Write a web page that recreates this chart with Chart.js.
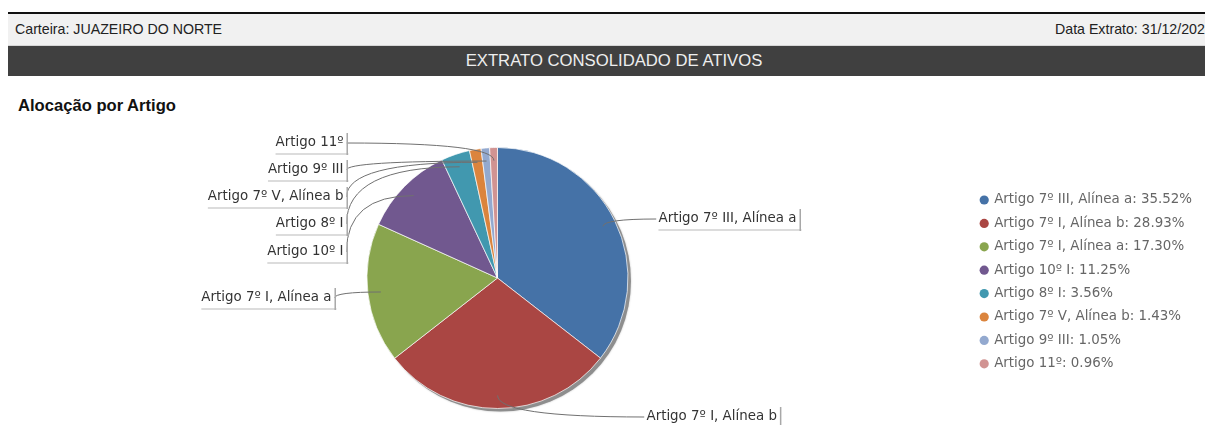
<!DOCTYPE html>
<html>
<head>
<meta charset="utf-8">
<script src="https://cdn.jsdelivr.net/npm/chart.js@4.4.1/dist/chart.umd.min.js"></script>
<style>
  html, body { margin: 0; padding: 0; background: #fff; width: 1205px; height: 425px; overflow: hidden; position: relative; }
  #linhaTopo { position: absolute; left: 8px; top: 12px; width: 1212px; height: 2px; background: #111; }
  #barraInfo { position: absolute; left: 8px; top: 14px; width: 1212px; height: 31px; background: #f1f1f1; border-bottom: 1px solid #d6d6d6; font: 14.2px "Liberation Sans", Arial, sans-serif; color: #222; }
  #carteira { position: absolute; left: 7px; top: 7px; white-space: nowrap; }
  #dataExtrato { position: absolute; left: 1047px; top: 7px; white-space: nowrap; }
  #barraTitulo { position: absolute; left: 8px; top: 46px; width: 1212px; height: 30px; background: #404040; color: #eee; font: 16.7px "Liberation Sans", Arial, sans-serif; text-align: center; line-height: 30px; }
  #tituloSecao { position: absolute; left: 18px; top: 96px; font: bold 16.6px "Liberation Sans", Arial, sans-serif; color: #111; white-space: nowrap; }
  #areaGrafico { position: absolute; left: 0; top: 120px; width: 1205px; height: 305px; }
</style>
</head>
<body>
<div id="linhaTopo"></div>
<div id="barraInfo"><span id="carteira">Carteira: JUAZEIRO DO NORTE</span><span id="dataExtrato">Data Extrato: 31/12/2025</span></div>
<div id="barraTitulo">EXTRATO CONSOLIDADO DE ATIVOS</div>
<div id="tituloSecao">Alocação por Artigo</div>
<div id="areaGrafico"><canvas id="alocacaoChart"></canvas></div>

<script>
// Dados da alocação por artigo
const categorias = [
  'Artigo 7º III, Alínea a',
  'Artigo 7º I, Alínea b',
  'Artigo 7º I, Alínea a',
  'Artigo 10º I',
  'Artigo 8º I',
  'Artigo 7º V, Alínea b',
  'Artigo 9º III',
  'Artigo 11º'
];
const percentuais = [35.52, 28.93, 17.30, 11.25, 3.56, 1.43, 1.05, 0.96];
const cores = ['#4572A7', '#AA4643', '#89A54E', '#71588F', '#4198AF', '#DB843D', '#93A9CF', '#D19392'];

// Posição dos rótulos externos, relativa ao centro da pizza (px)
const posRotulos = [
  { lado: 'dir', dx: 159, dy: -59 },
  { lado: 'dir', dx: 147, dy: 139 },
  { lado: 'esq', dx: -163, dy: 20 },
  { lado: 'esq', dx: -151, dy: -26 },
  { lado: 'esq', dx: -151, dy: -54 },
  { lado: 'esq', dx: -151, dy: -81 },
  { lado: 'esq', dx: -151, dy: -108 },
  { lado: 'esq', dx: -151, dy: -135 }
];

const fonteGrafico = '"DejaVu Sans", Verdana, sans-serif';

// Sombra cinza atrás da pizza + rótulos com linhas de chamada
const rotulosPlugin = {
  id: 'rotulos',
  beforeDatasetsDraw(chart) {
    const arc = chart.getDatasetMeta(0).data[0];
    if (!arc) return;
    const ctx = chart.ctx;
    const { x, y, outerRadius } = arc.getProps(['x', 'y', 'outerRadius'], true);
    ctx.save();
    ctx.fillStyle = '#8e8e8e';
    ctx.shadowColor = 'rgba(0,0,0,0.25)';
    ctx.shadowBlur = 2;
    ctx.beginPath();
    ctx.arc(x + 3, y + 3, outerRadius, 0, Math.PI * 2);
    ctx.fill();
    ctx.restore();
  },
  afterDatasetsDraw(chart) {
    const ctx = chart.ctx;
    const meta = chart.getDatasetMeta(0);
    ctx.save();
    ctx.font = '13.4px ' + fonteGrafico;
    ctx.textBaseline = 'middle';
    meta.data.forEach((arc, i) => {
      const p = arc.getProps(['x', 'y', 'startAngle', 'endAngle', 'outerRadius'], true);
      const meio = (p.startAngle + p.endAngle) / 2;
      const ax = p.x + Math.cos(meio) * p.outerRadius * 0.9;
      const ay = p.y + Math.sin(meio) * p.outerRadius * 0.9;
      const pos = posRotulos[i];
      const ly = p.y + pos.dy;
      const borda = p.x + pos.dx;
      const tw = ctx.measureText(categorias[i]).width;

      // linha de chamada
      let cx, cy;
      if (pos.lado === 'esq' && ay < ly - 4) { cx = borda; cy = ay; } else { cx = ax; cy = ly; }
      ctx.strokeStyle = '#707070';
      ctx.lineWidth = 1;
      ctx.beginPath();
      ctx.moveTo(borda, ly);
      ctx.quadraticCurveTo(cx, cy, ax, ay);
      ctx.stroke();

      // caixa do rótulo
      let esq, dir;
      if (pos.lado === 'esq') { dir = borda; esq = borda - tw - 5; }
      else { esq = borda; dir = borda + tw + 5; }
      const topo = ly - 10, base = ly + 10;
      ctx.fillStyle = '#fff';
      ctx.fillRect(esq, topo, dir - esq, base - topo);
      ctx.fillStyle = '#dcdcdc';
      ctx.fillRect(esq + 2, base, dir - esq, 2);
      ctx.fillStyle = '#a8a8a8';
      ctx.fillRect(dir, topo, 1.5, base - topo + 2);
      ctx.fillStyle = '#333';
      ctx.textAlign = 'left';
      ctx.fillText(categorias[i], esq + 2, ly);
    });
    ctx.restore();
  }
};

const ctx = document.getElementById('alocacaoChart').getContext('2d');
const grafico = new Chart(ctx, {
  type: 'pie',
  data: {
    labels: categorias,
    datasets: [{
      data: percentuais,
      backgroundColor: cores,
      borderColor: 'rgba(255,255,255,0.7)',
      borderWidth: 1,
      hoverOffset: 0
    }]
  },
  options: {
    responsive: true,
    maintainAspectRatio: false,
    animation: false,
    layout: {
      padding: { top: 27, bottom: 16, left: 24, right: 3 }
    },
    plugins: {
      legend: {
        position: 'right',
        align: 'center',
        title: { display: true, text: '', padding: 0, font: { size: 6.5 } },
        labels: {
          usePointStyle: true,
          pointStyle: 'circle',
          boxWidth: 6.5,
          boxHeight: 6.5,
          padding: 10,
          color: '#555',
          font: { size: 13.4, family: fonteGrafico },
          generateLabels(chart) {
            const ds = chart.data.datasets[0];
            return chart.data.labels.map((l, i) => ({
              text: l + ': ' + ds.data[i].toFixed(2) + '%',
              fillStyle: ds.backgroundColor[i],
              strokeStyle: ds.backgroundColor[i],
              lineWidth: 0,
              pointStyle: 'circle',
              hidden: false,
              index: i
            }));
          }
        }
      },
      tooltip: { enabled: false }
    }
  },
  plugins: [rotulosPlugin]
});
</script>
</body>
</html>
